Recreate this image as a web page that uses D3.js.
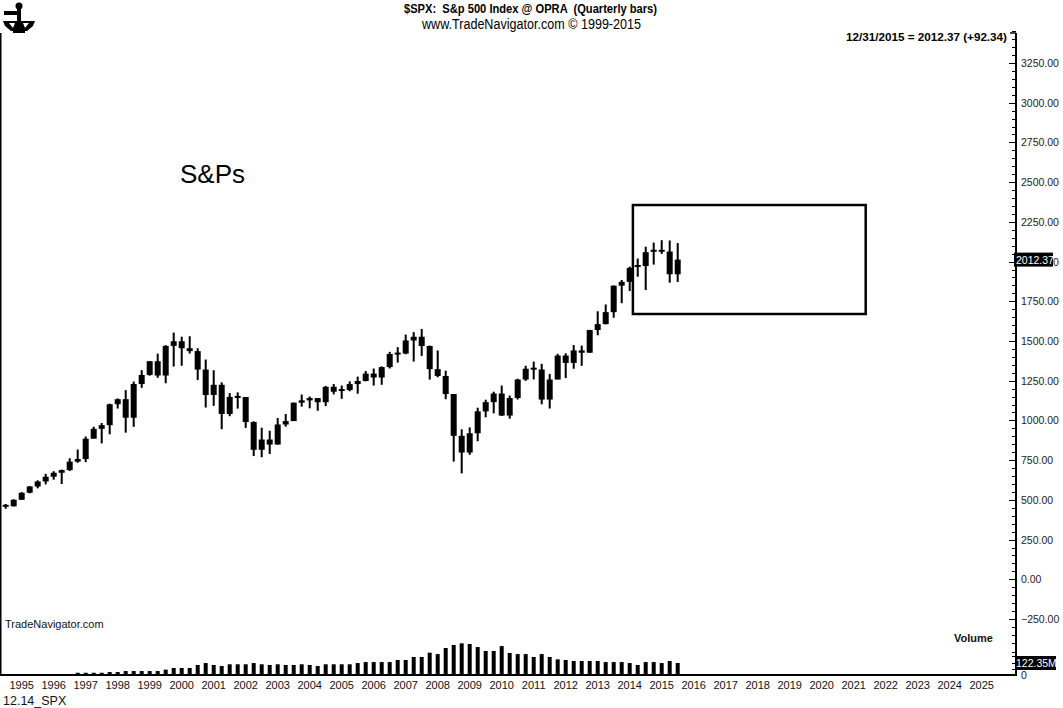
<!DOCTYPE html>
<html><head><meta charset="utf-8">
<script src="https://cdn.jsdelivr.net/npm/d3@7"></script>
<style>html,body{margin:0;padding:0;background:#fff;} svg{display:block;font-family:"Liberation Sans",Arial,sans-serif;}</style>
</head><body><svg id="c" width="1063" height="708"></svg>
<script>
// ---------- DATA ----------
const quarters = ["1994Q4",
 "1995Q1","1995Q2","1995Q3","1995Q4","1996Q1","1996Q2","1996Q3","1996Q4",
 "1997Q1","1997Q2","1997Q3","1997Q4","1998Q1","1998Q2","1998Q3","1998Q4",
 "1999Q1","1999Q2","1999Q3","1999Q4","2000Q1","2000Q2","2000Q3","2000Q4",
 "2001Q1","2001Q2","2001Q3","2001Q4","2002Q1","2002Q2","2002Q3","2002Q4",
 "2003Q1","2003Q2","2003Q3","2003Q4","2004Q1","2004Q2","2004Q3","2004Q4",
 "2005Q1","2005Q2","2005Q3","2005Q4","2006Q1","2006Q2","2006Q3","2006Q4",
 "2007Q1","2007Q2","2007Q3","2007Q4","2008Q1","2008Q2","2008Q3","2008Q4",
 "2009Q1","2009Q2","2009Q3","2009Q4","2010Q1","2010Q2","2010Q3","2010Q4",
 "2011Q1","2011Q2","2011Q3","2011Q4","2012Q1","2012Q2","2012Q3","2012Q4",
 "2013Q1","2013Q2","2013Q3","2013Q4","2014Q1","2014Q2","2014Q3","2014Q4",
 "2015Q1","2015Q2","2015Q3","2015Q4"];
const opens = [462.7,
 459.1,500.7,544.8,584.4, 615.9,645.5,670.6,687.3,
 740.7,757.1,885.1,947.3, 970.4,1101.8,1133.8,1017.0,
 1229.2,1286.4,1372.7,1282.7, 1469.3,1498.6,1454.6,1436.5,
 1320.3,1160.3,1224.4,1040.9, 1148.1,1147.4,989.8,815.3,
 879.8,848.2,974.5,996.0, 1111.9,1126.2,1140.8,1114.6,
 1211.9,1180.6,1191.3,1228.8, 1248.3,1294.8,1270.2,1335.9,
 1418.3,1420.9,1503.4,1526.8, 1468.4,1322.7,1280.0,1166.4,
 903.3,797.9,919.3,1057.1, 1115.1,1169.4,1030.7,1141.2,
 1257.6,1325.8,1320.6,1131.4, 1257.6,1408.5,1362.2,1440.7,
 1426.2,1569.2,1606.3,1681.6, 1848.4,1872.3,1960.2,1972.3,
 2058.9,2067.9,2063.1,1920.0];
const highs = [473.8,
 503.9,548.6,586.8,622.9, 664.0,680.3,690.9,762.1,
 817.0,898.7,960.3,983.8, 1105.7,1138.5,1190.6,1244.9,
 1316.6,1372.9,1420.3,1473.1, 1553.1,1527.2,1530.1,1454.6,
 1383.4,1315.9,1239.8,1172.2, 1176.9,1147.8,994.5,954.3,
 935.1,1015.3,1040.3,1112.6, 1163.2,1150.6,1140.8,1217.3,
 1229.1,1219.6,1245.9,1275.8, 1310.9,1326.7,1340.3,1431.8,
 1461.6,1540.6,1555.9,1576.1, 1471.8,1440.2,1313.2,1167.0,
 943.9,956.2,1080.2,1130.4, 1180.7,1219.8,1157.2,1262.6,
 1344.1,1370.6,1356.5,1292.7, 1419.2,1422.4,1474.5,1471.0,
 1570.3,1687.2,1729.9,1849.4, 1884.0,1968.2,2019.3,2093.6,
 2119.6,2134.7,2132.8,2116.5];
const lows = [444.2,
 459.1,500.2,541.0,572.7, 597.3,627.0,600.0,681.3,
 733.5,737.6,885.1,855.3, 912.8,1074.9,923.3,959.7,
 1205.5,1281.4,1268.4,1233.7, 1339.2,1344.2,1421.0,1254.1,
 1081.2,1091.9,944.8,1026.8, 1074.4,952.9,775.7,768.6,
 788.9,847.9,960.8,995.9, 1087.2,1076.3,1060.7,1090.2,
 1163.7,1136.2,1183.6,1168.2, 1245.7,1219.3,1224.5,1327.1,
 1364.0,1416.4,1370.6,1406.1, 1257.0,1272.0,1133.5,741.0,
 666.8,783.3,869.3,1020.2, 1044.5,1028.3,1010.9,1131.9,
 1249.1,1258.1,1101.5,1074.8, 1258.9,1266.7,1325.4,1343.4,
 1426.2,1536.0,1604.6,1646.5, 1737.9,1814.4,1904.8,1820.7,
 1980.9,2048.4,1867.0,1871.9];
const closes = [459.3,
 500.7,544.8,584.4,615.9, 645.5,670.6,687.3,740.7,
 757.1,885.1,947.3,970.4, 1101.8,1133.8,1017.0,1229.2,
 1286.4,1372.7,1282.7,1469.3, 1498.6,1454.6,1436.5,1320.3,
 1160.3,1224.4,1040.9,1148.1, 1147.4,989.8,815.3,879.8,
 848.2,974.5,996.0,1111.9, 1126.2,1140.8,1114.6,1211.9,
 1180.6,1191.3,1228.8,1248.3, 1294.8,1270.2,1335.9,1418.3,
 1420.9,1503.4,1526.8,1468.4, 1322.7,1280.0,1166.4,903.3,
 797.9,919.3,1057.1,1115.1, 1169.4,1030.7,1141.2,1257.6,
 1325.8,1320.6,1131.4,1257.6, 1408.5,1362.2,1440.7,1426.2,
 1569.2,1606.3,1681.6,1848.4, 1872.3,1960.2,1972.3,2058.9,
 2067.9,2063.1,1920.0,2012.37];
// volume in millions (null = no bar drawn)
const volumes = [null,
 null,null,null,null, null,null,null,null,
 14,14,14,14, 22,22,33,33,
 33,33,33,48, 67,67,67,100,
 122,100,89,108, 108,108,122,108,
 100,108,100,100, 108,100,89,108,
 108,108,108,122, 133,133,133,133,
 156,156,189,189, 237,222,289,323,
 341,334,300,256, 256,311,234,222,
 222,189,222,189, 163,156,145,145,
 145,145,133,133, 133,122,100,133,
 133,122,145,122.35];
const yearLabels = ["1995","1996","1997","1998","1999","2000","2001","2002","2003","2004",
 "2005","2006","2007","2008","2009","2010","2011","2012","2013","2014","2015","2016",
 "2017","2018","2019","2020","2021","2022","2023","2024","2025"];
const priceTicks = [3250,3000,2750,2500,2250,2000,1750,1500,1250,1000,750,500,250,0,-250];
const lastClose = 2012.37, lastChange = 92.34, lastVolume = 122.35;
const boxQuarterSpan = [78.4, 107.5];   // in quarter index units
const boxPriceSpan = [1670, 2356];

// ---------- LAYOUT ----------
const svg = d3.select("#c");
const W = 1063, H = 708;
const axisX = 1016, plotTop = 33, plotBottom = 675;
const x = d3.scaleLinear().domain([0, 120]).range([5.7, 5.7 + 960]);
const y = d3.scaleLinear().domain([0, 3250]).range([579.3, 63]);
const yv = d3.scaleLinear().domain([0, lastVolume]).range([plotBottom - 1, plotBottom - 12]);

svg.append("rect").attr("width", W).attr("height", H).attr("fill", "#fff");

// frame
svg.append("line").attr("x1", 0.75).attr("x2", 0.75).attr("y1", plotTop).attr("y2", plotBottom).attr("stroke", "#000").attr("stroke-width", 1.5);
svg.append("line").attr("x1", 0).attr("x2", axisX).attr("y1", plotBottom).attr("y2", plotBottom).attr("stroke", "#000").attr("stroke-width", 2);
svg.append("line").attr("x1", axisX).attr("x2", axisX).attr("y1", plotTop).attr("y2", plotBottom + 1).attr("stroke", "#000").attr("stroke-width", 2);
svg.append("line").attr("x1", axisX - 6).attr("x2", axisX).attr("y1", plotTop).attr("y2", plotTop).attr("stroke", "#000").attr("stroke-width", 1.5);

// price axis: minor ticks every 50
const minorTicks = d3.range(-400, 3451, 50);
svg.append("g").selectAll("line").data(minorTicks).join("line")
  .attr("x1", d => d % 250 === 0 ? axisX - 7 : axisX - 4).attr("x2", axisX)
  .attr("y1", d => Math.round(y(d)) + 0.5).attr("y2", d => Math.round(y(d)) + 0.5)
  .attr("stroke", "#000").attr("stroke-width", 1);
svg.append("g").selectAll("text").data(priceTicks).join("text")
  .attr("x", 1021).attr("y", d => y(d) + 4)
  .attr("font-size", 10.5).attr("fill", "#222")
  .text(d => d3.format(".2f")(d));
// volume axis ticks
svg.append("g").selectAll("line").data([0, 60, 122.35, 200, 250]).join("line")
  .attr("x1", axisX - 4).attr("x2", axisX)
  .attr("y1", d => Math.round(yv(d)) + 0.5).attr("y2", d => Math.round(yv(d)) + 0.5)
  .attr("stroke", "#000");
svg.append("text").attr("x", 1021).attr("y", plotBottom + 4).attr("font-size", 10.5).attr("fill", "#222").text("0");

// volume bars
svg.append("g").selectAll("rect").data(volumes.map((v, i) => ({v, i})).filter(d => d.v != null)).join("rect")
  .attr("x", d => x(d.i) - 2).attr("width", 4)
  .attr("y", d => yv(d.v)).attr("height", d => yv(0) - yv(d.v))
  .attr("fill", "#000");

// candles
const candles = quarters.map((q, i) => ({q, i, o: opens[i], h: highs[i], l: lows[i], c: closes[i]}));
const cg = svg.append("g");
cg.selectAll("rect.wick").data(candles).join("rect").attr("class", "wick")
  .attr("x", d => x(d.i) - 1).attr("width", 2)
  .attr("y", d => y(d.h)).attr("height", d => y(d.l) - y(d.h)).attr("fill", "#000");
cg.selectAll("rect.body").data(candles).join("rect").attr("class", "body")
  .attr("x", d => x(d.i) - 3).attr("width", 6)
  .attr("y", d => Math.min(y(d.o), y(d.c)) - (Math.abs(y(d.o) - y(d.c)) < 2 ? 1 : 0))
  .attr("height", d => Math.max(2, Math.abs(y(d.o) - y(d.c)))).attr("fill", "#000");

// annotation box
svg.append("rect")
  .attr("x", x(boxQuarterSpan[0])).attr("y", y(boxPriceSpan[1]))
  .attr("width", x(boxQuarterSpan[1]) - x(boxQuarterSpan[0]))
  .attr("height", y(boxPriceSpan[0]) - y(boxPriceSpan[1]))
  .attr("fill", "none").attr("stroke", "#000").attr("stroke-width", 2.5);

svg.append("text").attr("x", 180).attr("y", 183).attr("font-size", 26).attr("fill", "#000").text("S&Ps");

// x labels
svg.append("g").selectAll("text").data(yearLabels).join("text")
  .attr("x", d => x((+d - 1995) * 4 + 2)).attr("y", 689)
  .attr("text-anchor", "middle").attr("font-size", 11).attr("fill", "#111")
  .text(d => d);

// last value markers
const lv = svg.append("g");
lv.append("rect").attr("x", 1014).attr("y", y(lastClose) - 7).attr("width", 39).attr("height", 14).attr("fill", "#000");
lv.append("text").attr("x", 1016).attr("y", y(lastClose) + 4).attr("font-size", 10.5).attr("fill", "#fff").text(d3.format(".2f")(lastClose));
lv.append("rect").attr("x", 1015).attr("y", yv(lastVolume) - 7).attr("width", 41).attr("height", 14).attr("fill", "#000");
lv.append("text").attr("x", 1016).attr("y", yv(lastVolume) + 4).attr("font-size", 10.5).attr("fill", "#fff").text(d3.format(".2f")(lastVolume) + "M");

// header
svg.append("text").attr("x", 404).attr("y", 13).attr("font-size", 12).attr("font-weight", "bold")
  .attr("textLength", 253).attr("lengthAdjust", "spacingAndGlyphs").attr("fill", "#000")
  .style("white-space", "pre").attr("xml:space", "preserve")
  .text("$SPX:  S&p 500 Index @ OPRA  (Quarterly bars)");
svg.append("text").attr("x", 422).attr("y", 29).attr("font-size", 14)
  .attr("textLength", 219).attr("lengthAdjust", "spacingAndGlyphs").attr("fill", "#000")
  .text("www.TradeNavigator.com © 1999-2015");
svg.append("text").attr("x", 846).attr("y", 41).attr("font-size", 11.5).attr("font-weight", "bold")
  .attr("textLength", 161).attr("lengthAdjust", "spacingAndGlyphs").attr("fill", "#000")
  .text(`12/31/2015 = ${d3.format(".2f")(lastClose)} (+${d3.format(".2f")(lastChange)})`);

svg.append("text").attr("x", 5).attr("y", 628).attr("font-size", 11).attr("fill", "#111").text("TradeNavigator.com");
svg.append("text").attr("x", 954).attr("y", 642).attr("font-size", 11).attr("font-weight", "bold").attr("fill", "#111").text("Volume");
svg.append("text").attr("x", 3).attr("y", 705).attr("font-size", 12.5).attr("fill", "#111").text("12.14_SPX");

// logo (sextant emblem)
const logo = svg.append("g").attr("fill", "#000");
logo.append("circle").attr("cx", 19).attr("cy", 6).attr("r", 3.5);
logo.append("rect").attr("x", 17).attr("y", 6).attr("width", 4).attr("height", 22);
logo.append("rect").attr("x", 4).attr("y", 11).attr("width", 15).attr("height", 4);
logo.append("path").attr("d", "M3,21 L35,21 L33,26 L27,31 L11,31 L5,26 Z");
logo.append("path").attr("d", "M9,23 L15,23 L13,28 Z M23,23 L29,23 L25,28 Z").attr("fill", "#fff");
logo.append("rect").attr("x", 13).attr("y", 31).attr("width", 12).attr("height", 2);
</script>
</body></html>
